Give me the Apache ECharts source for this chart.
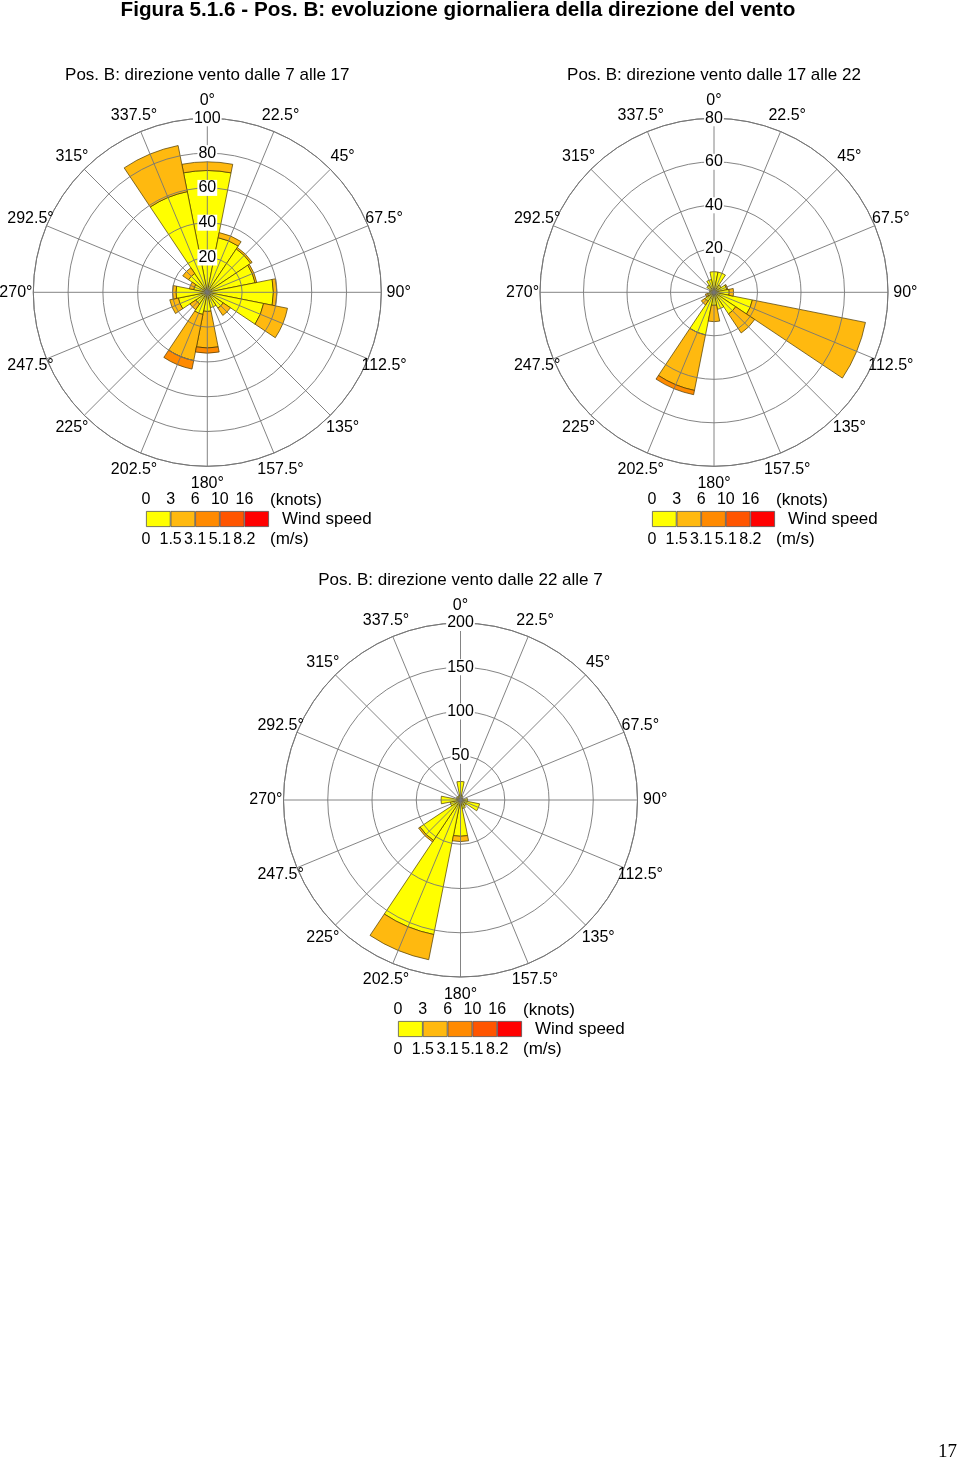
<!DOCTYPE html>
<html><head><meta charset="utf-8">
<script src="https://cdn.jsdelivr.net/npm/echarts@6/dist/echarts.min.js"></script>
<style>html,body{margin:0;padding:0;background:#fff}#c{width:960px;height:1462px}</style>
</head><body><div id="c"></div>
<script>
// ---- data ----
const directions = [0, 22.5, 45, 67.5, 90, 112.5, 135, 157.5, 180, 202.5, 225, 247.5, 270, 292.5, 315, 337.5];
const dirLabels = ['0°','22.5°','45°','67.5°','90°','112.5°','135°','157.5°','180°','202.5°','225°','247.5°','270°','292.5°','315°','337.5°'];
const speedKnots = ['0','3','6','10','16'];
const speedMs = ['0','1.5','3.1','5.1','8.2'];
const speedColors = ['#ffff00','#ffb90f','#ff8a00','#ff5500','#ff0000'];

// Pos. B 7-17 (classes: 0-3, 3-6, 6-10, 10-16, >16 knots)
const day_c1 = [70, 32, 30, 28, 38, 33, 11, 9, 11, 13, 8, 17, 18, 8, 13, 59];
const day_c2 = [5, 3, 1, 1, 2, 14, 5, 0, 21, 27, 4, 5, 2, 2.5, 4, 27];
const day_c3 = [0, 0, 0, 0, 0, 0, 0, 0, 3, 5, 0, 0, 0, 0, 0, 0];
const day_c4 = [0, 0, 0, 0, 0, 0, 0, 0, 0, 0, 0, 0, 0, 0, 0, 0];
const day_c5 = [0, 0, 0, 0, 0, 0, 0, 0, 0, 0, 0, 0, 0, 0, 0, 0];

// Pos. B 17-22
const eve_c1 = [9.5, 9.5, 4, 6, 7, 18, 12, 8, 6, 20, 5, 3, 2, 2, 4, 6];
const eve_c2 = [0, 0, 0, 0.5, 2, 53, 10.5, 0, 7.5, 26, 2, 1, 0, 0, 0, 0];
const eve_c3 = [0, 0, 0, 0, 0, 0, 0, 0, 0, 2, 0, 0, 0, 0, 0, 0];
const eve_c4 = [0, 0, 0, 0, 0, 0, 0, 0, 0, 0, 0, 0, 0, 0, 0, 0];
const eve_c5 = [0, 0, 0, 0, 0, 0, 0, 0, 0, 0, 0, 0, 0, 0, 0, 0];

// Pos. B 22-7
const night_c1 = [21, 5, 3, 3, 8, 22, 8, 10, 41, 155, 55, 12, 22, 5, 5, 5];
const night_c2 = [0, 0, 0, 0, 0, 0, 0, 0, 6, 29, 2, 0, 0, 0, 0, 0];
const night_c3 = [0, 0, 0, 0, 0, 0, 0, 0, 0, 0, 0, 0, 0, 0, 0, 0];
const night_c4 = [0, 0, 0, 0, 0, 0, 0, 0, 0, 0, 0, 0, 0, 0, 0, 0];
const night_c5 = [0, 0, 0, 0, 0, 0, 0, 0, 0, 0, 0, 0, 0, 0, 0, 0];

// ---- layout ----
const FONT = '"Liberation Sans", Arial, Helvetica, sans-serif';
const GRID_COLOR = '#767676';
const charts = [
  {title:'Pos. B: direzione vento dalle 7 alle 17', cx:207.3, cy:292.3, r:174, max:100, step:20,
   data:[day_c1,day_c2,day_c3,day_c4,day_c5], lg:{left:146, top:511, width:123}, titleTop:67},
  {title:'Pos. B: direzione vento dalle 17 alle 22', cx:714, cy:292.3, r:174, max:80, step:20,
   data:[eve_c1,eve_c2,eve_c3,eve_c4,eve_c5], lg:{left:652, top:511, width:123}, titleTop:67},
  {title:'Pos. B: direzione vento dalle 22 alle 7', cx:460.5, cy:800, r:177, max:200, step:50,
   data:[night_c1,night_c2,night_c3,night_c4,night_c5], lg:{left:398, top:1021, width:124}, titleTop:572}
];

const polar = [], angleAxis = [], radiusAxis = [], series = [], grid = [], xAxis = [], yAxis = [];
const title = [
  {text:'Figura 5.1.6 - Pos. B: evoluzione giornaliera della direzione del vento', left:458, top:0, padding:0, textAlign:'center',
   textStyle:{fontSize:20.7, fontWeight:'bold', color:'#000', fontFamily:FONT}},
  {text:'17', left:938, top:1443, padding:0, textStyle:{fontSize:19, fontWeight:'normal', color:'#000', fontFamily:'"Liberation Serif", "Times New Roman", serif'}}
];

charts.forEach((c, i) => {
  const pb = 2*i, pg = 2*i+1;
  polar.push({center:[c.cx, c.cy], radius:c.r});
  polar.push({center:[c.cx, c.cy], radius:c.r});
  angleAxis.push({polarIndex:pb, type:'category', data:dirLabels, startAngle:90+11.25, clockwise:true, boundaryGap:true, show:false});
  radiusAxis.push({polarIndex:pb, type:'value', min:0, max:c.max, show:false});
  angleAxis.push({polarIndex:pg, type:'value', min:0, max:360, interval:22.5, startAngle:90, clockwise:true, z:5,
    axisLine:{show:true, lineStyle:{color:GRID_COLOR, width:1}}, axisTick:{show:false}, axisLabel:{show:false},
    splitLine:{show:true, lineStyle:{color:GRID_COLOR, width:0.9}}});
  radiusAxis.push({polarIndex:pg, type:'value', min:0, max:c.max, interval:c.step, z:6,
    axisLine:{show:false}, axisTick:{show:false},
    splitLine:{show:true, lineStyle:{color:GRID_COLOR, width:0.9}},
    axisLabel:{show:true, margin:0, align:'center', verticalAlign:'middle', showMinLabel:false,
      backgroundColor:'#fff', padding:[0,1], fontSize:16, color:'#000', fontFamily:FONT,
      formatter: v => v === 0 ? '' : String(v)}});
  c.data.forEach((arr, k) => {
    series.push({type:'bar', coordinateSystem:'polar', polarIndex:pb, stack:'s'+i, silent:true,
      data: arr.map(v => v === 0 ? '-' : v), barCategoryGap:'0%', z:2,
      itemStyle:{color:speedColors[k], borderColor:'#4a3800', borderWidth:0.7}});
  });
  series.push({type:'scatter', coordinateSystem:'polar', polarIndex:pg, symbolSize:0, clip:false, silent:true, z:7,
    itemStyle:{opacity:1},
    data: directions.map(d => [c.max*1.1, d]),
    label:{show:true, position:'inside', formatter: p => dirLabels[p.dataIndex], fontSize:16, color:'#000', opacity:1, fontFamily:FONT}});

  // legend colour bar
  grid.push({left:c.lg.left, top:c.lg.top, width:c.lg.width, height:16});
  xAxis.push({gridIndex:i, type:'category', data:speedKnots, show:false, boundaryGap:true});
  xAxis.push({gridIndex:i, type:'value', min:0, max:5, interval:1, position:'top',
    axisLine:{show:false}, axisTick:{show:false}, splitLine:{show:false},
    axisLabel:{fontSize:16, color:'#000', margin:3, fontFamily:FONT, formatter: v => speedKnots[v] || ''}});
  xAxis.push({gridIndex:i, type:'value', min:0, max:5, interval:1, position:'bottom',
    axisLine:{show:false}, axisTick:{show:false}, splitLine:{show:false},
    axisLabel:{fontSize:16, color:'#000', margin:5, fontFamily:FONT, formatter: v => speedMs[v] || ''}});
  yAxis.push({gridIndex:i, type:'value', min:0, max:1, show:false});
  series.push({type:'bar', xAxisIndex:3*i, yAxisIndex:i, silent:true, barCategoryGap:'0%',
    data: speedColors.map(col => ({value:1, itemStyle:{color:col}})),
    itemStyle:{borderColor:'#555', borderWidth:0.8}});

  const lx = c.lg.left + c.lg.width + 1, ly = c.lg.top;
  const ts = {fontSize:17, fontWeight:'normal', color:'#000', fontFamily:FONT};
  title.push({text:c.title, left:c.cx, top:c.titleTop, padding:0, textAlign:'center', textStyle:ts});
  title.push({text:'(knots)', left:lx, top:ly-19, padding:0, textStyle:ts});
  title.push({text:'Wind speed', left:lx+12, top:ly, padding:0, textStyle:ts});
  title.push({text:'(m/s)', left:lx, top:ly+20, padding:0, textStyle:ts});
});

const chart = echarts.init(document.getElementById('c'), null, {renderer:'canvas'});
chart.setOption({
  animation:false, backgroundColor:'#fff', textStyle:{fontFamily:FONT},
  title, polar, angleAxis, radiusAxis, grid, xAxis, yAxis, series
});
</script></body></html>
